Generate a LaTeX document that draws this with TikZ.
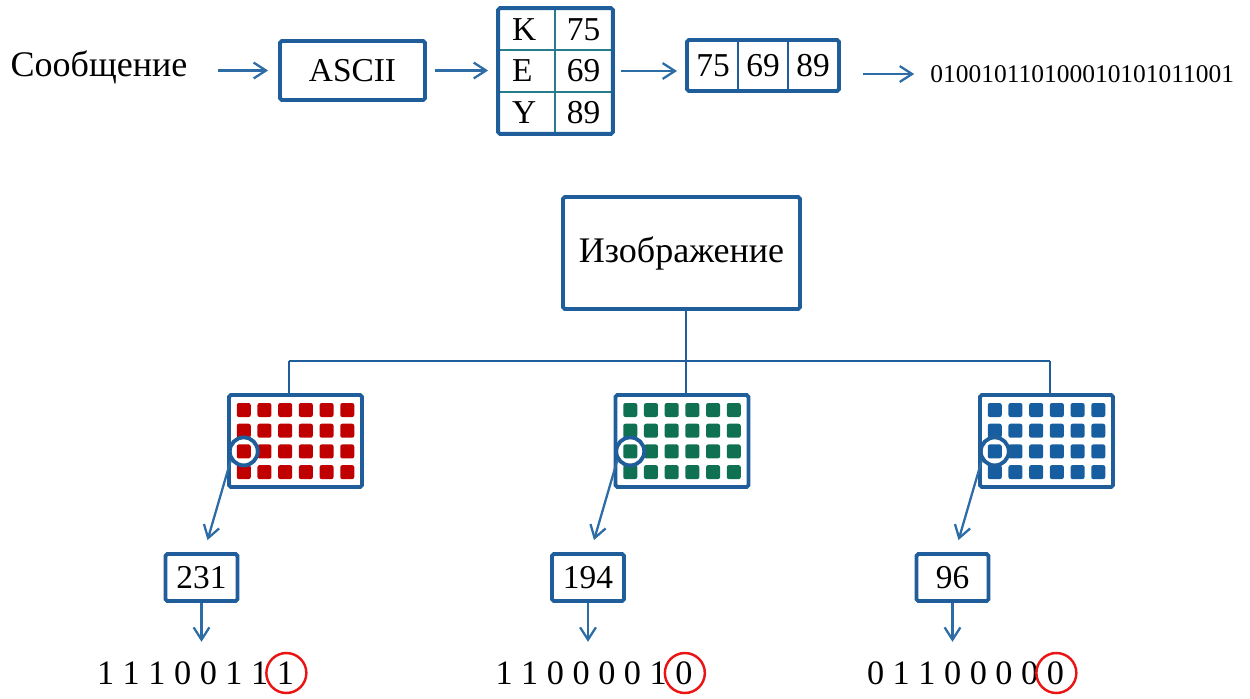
\documentclass[tikz,border=0pt]{standalone}
\usepackage{fontspec}
\setmainfont{Liberation Serif}
\usetikzlibrary{arrows.meta,calc}

\definecolor{frameblue}{RGB}{31,94,154}
\definecolor{lineblue}{RGB}{46,108,165}
\definecolor{cellteal}{RGB}{40,125,140}
\definecolor{pixred}{RGB}{192,0,0}
\definecolor{pixgreen}{RGB}{16,112,82}
\definecolor{pixblue}{RGB}{22,94,160}
\definecolor{ringred}{RGB}{235,20,20}

\begin{document}
\begin{tikzpicture}[x=0.02cm, y=-0.02cm,
    frame/.style={draw=frameblue, line width=2.2pt, rounded corners=1pt, inner sep=0pt},
    big/.style={font=\fontsize{19}{21}\selectfont},
    word/.style={font=\fontsize{20.5}{23}\selectfont, inner sep=0pt},
    keycell/.style={draw=cellteal, line width=1pt, big, minimum height=0.827cm, inner xsep=0.26cm, inner ysep=0pt, text width=0.6cm, align=left},
    codecell/.style={draw=cellteal, line width=1pt, big, minimum height=0.827cm, minimum width=1.14cm, inner sep=0pt},
    numcell/.style={draw=frameblue, line width=1.1pt, big, minimum height=0.98cm, minimum width=1cm, inner sep=0pt},
    panel/.style={frame, minimum width=2.66cm, minimum height=1.84cm},
    valbox/.style={frame, big, minimum width=1.44cm, minimum height=0.94cm},
    selring/.style={circle, draw=frameblue, line width=2.2pt, fill=white, minimum size=0.56cm, inner sep=0pt},
    bits/.style={font=\fontsize{19.5}{21}\selectfont, inner sep=0pt},
    bitring/.style={circle, draw=ringred, line width=1.4pt, minimum size=0.8cm, inner sep=0pt},
    arr/.style={draw=lineblue, line width=1.3pt, -{Straight Barb[length=7pt,width=9pt]}},
    tree/.style={draw=frameblue, line width=1.2pt}]
    \useasboundingbox (0,0) rectangle (1250,698);

    % Сообщение -> ASCII -> таблица -> коды -> биты
    \node[word] (msg) at (99,67) {Сообщение};
    \node[frame, big, minimum width=2.9cm, minimum height=1.18cm] (ascii) at (352.5,70.5) {ASCII};
    \foreach \l/\v [count=\r] in {K/75,E/69,Y/89} {
        \node[keycell] (key\r) at (527,{9+41.33*(\r-0.5)}) {\l};
        \node[codecell] (code\r) at (583.5,{9+41.33*(\r-0.5)}) {\v};
    }
    \draw[frameblue, line width=2.2pt, rounded corners=1pt] (key1.north west) rectangle (code3.south east);
    \foreach \v [count=\r] in {75,69,89}
        \node[numcell] (num\r) at ({663+50*\r},65.5) {\v};
    \draw[frameblue, line width=2.2pt, rounded corners=1pt] (num1.north west) rectangle (num3.south east);
    \node[font=\fontsize{14.5}{16}\selectfont, inner sep=0pt, anchor=west] (bin) at (930,74) {010010110100010101011001};

    \draw[arr, shorten <=17.5pt, shorten >=5.7pt] (msg.east |- ascii.west) -- (ascii.west);
    \draw[arr, shorten <=4.5pt, shorten >=5.7pt] (ascii.east) -- (ascii.east -| key2.west);
    \draw[arr, shorten <=4.5pt, shorten >=5.7pt] (code2.east) -- (code2.east -| num1.west);
    \draw[arr, shorten <=13.6pt, shorten >=9pt] (num3.east |- bin.west) -- (bin.west);

    % Изображение -> три канала
    \node[frame, word, inner sep=0pt, minimum width=4.74cm, minimum height=2.24cm] (pic) at (681.5,253) {Изображение};
    \foreach \n/\cx/\dx/\col/\val/\bx/\bits in {R/295.5/289/pixred/231/195.5/{1 1 1 0 0 1 1 1},
            G/682/686/pixgreen/194/594/{1 1 0 0 0 0 1 0},
            B/1046.5/1050/pixblue/96/965.5/{0 1 1 0 0 0 0 0}} {
        \node[panel] (img\n) at (\cx,441) {};
        \foreach \i in {0,...,5}
            \foreach \j in {0,...,3}
                \fill[\col, rounded corners=1.2pt] ($(img\n)+(\i*20.7-58.75,\j*20.7-38)$) rectangle +(14,14);
        \node[selring] (sel\n) at ($(img\n)+(-51.75,10.4)$) {};
        \fill[\col, rounded corners=1.2pt] ($(sel\n)+(-7,-7)$) rectangle +(14,14);
        \coordinate (drop\n) at (\dx,361);
        \draw[tree] (drop\n) -- (drop\n |- img\n.north);
        \node[valbox] (val\n) at (\cx-94,577.5) {\val};
        \draw[arr] (sel\n.215) -- ($(val\n.north)+(6,-12)$);
        \node[bits] (bits\n) at (\bx,673) {\bits};
        \node[bitring] (ring\n) at ($(bits\n.east)+(-8,0)$) {};
        \draw[arr, shorten >=11pt] (val\n.south) -- (val\n.south |- bits\n.north);
    }
    \draw[tree] (dropG |- pic.south) -- (dropG);
    \draw[tree] (dropR) -- (dropB);
\end{tikzpicture}
\end{document}
